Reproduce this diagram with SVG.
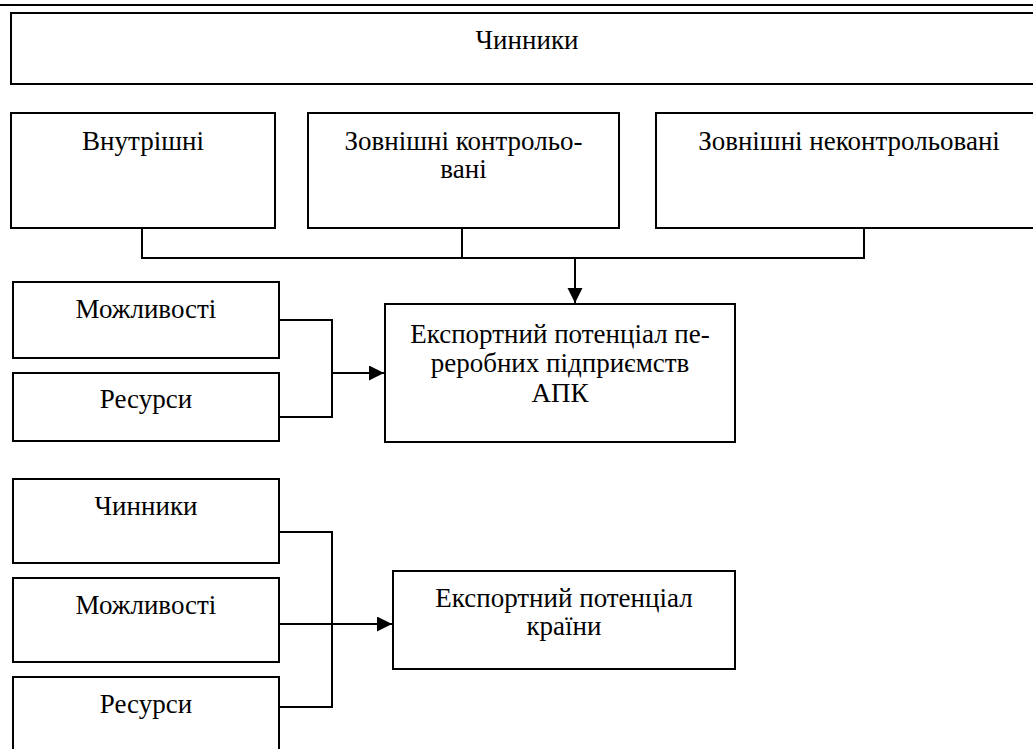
<svg xmlns="http://www.w3.org/2000/svg" width="1033" height="749" viewBox="0 0 1033 749">
<style>
.box{fill:#fff;stroke:#000;stroke-width:2}
.c{fill:none;stroke:#000;stroke-width:2}
</style>
<defs>
<marker id="ah" markerUnits="userSpaceOnUse" markerWidth="16" markerHeight="16" refX="15" refY="7.5" orient="auto">
<path d="M0,0 L15,7.5 L0,15 Z" fill="#000"/>
</marker>
</defs>
<rect width="1033" height="749" fill="#fff"/>
<line x1="0" y1="5" x2="1033" y2="5" stroke="#000" stroke-width="2"/>
<g font-family="Liberation Serif, DejaVu Serif, serif" font-size="27" fill="#000" text-anchor="middle">
<g id="n-top">
<rect class="box" x="11" y="13" width="1040" height="71"/>
<text x="527" y="49">Чинники</text>
</g>
<g id="n-vnutr">
<rect class="box" x="11" y="113" width="264" height="115"/>
<text x="143" y="150">Внутрішні</text>
</g>
<g id="n-zovn-k">
<rect class="box" x="308" y="113" width="311" height="115"/>
<text x="463.5" y="150">Зовнішні контрольо-</text>
<text x="463.5" y="178">вані</text>
</g>
<g id="n-zovn-nk">
<rect class="box" x="656" y="113" width="390" height="115"/>
<text x="849" y="150">Зовнішні неконтрольовані</text>
</g>
<g id="n-mozh1">
<rect class="box" x="13" y="282" width="266" height="76"/>
<text x="146" y="318">Можливості</text>
</g>
<g id="n-res1">
<rect class="box" x="13" y="373" width="266" height="68"/>
<text x="146" y="408">Ресурси</text>
</g>
<g id="n-exp-apk">
<rect class="box" x="385" y="304" width="350" height="138"/>
<text x="560" y="343">Експортний потенціал пе-</text>
<text x="560" y="372">реробних підприємств</text>
<text x="560" y="402">АПК</text>
</g>
<g id="n-chyn2">
<rect class="box" x="13" y="479" width="266" height="84"/>
<text x="146" y="515">Чинники</text>
</g>
<g id="n-mozh2">
<rect class="box" x="13" y="578" width="266" height="84"/>
<text x="146" y="614">Можливості</text>
</g>
<g id="n-res2">
<rect class="box" x="13" y="677" width="266" height="80"/>
<text x="146" y="713">Ресурси</text>
</g>
<g id="n-exp-country">
<rect class="box" x="393" y="571" width="342" height="98"/>
<text x="564" y="607">Експортний потенціал</text>
<text x="564" y="635">країни</text>
</g>
</g>
<g id="connectors">
<path class="c" d="M142,228 V258 H864 V228 M462,228 V258"/>
<path class="c" d="M575,258 V303" marker-end="url(#ah)"/>
<path class="c" d="M279,320 H332 V417 H279"/>
<path class="c" d="M332,373 H384" marker-end="url(#ah)"/>
<path class="c" d="M279,532 H332 V707 H279"/>
<path class="c" d="M279,624 H392" marker-end="url(#ah)"/>
</g>
</svg>
